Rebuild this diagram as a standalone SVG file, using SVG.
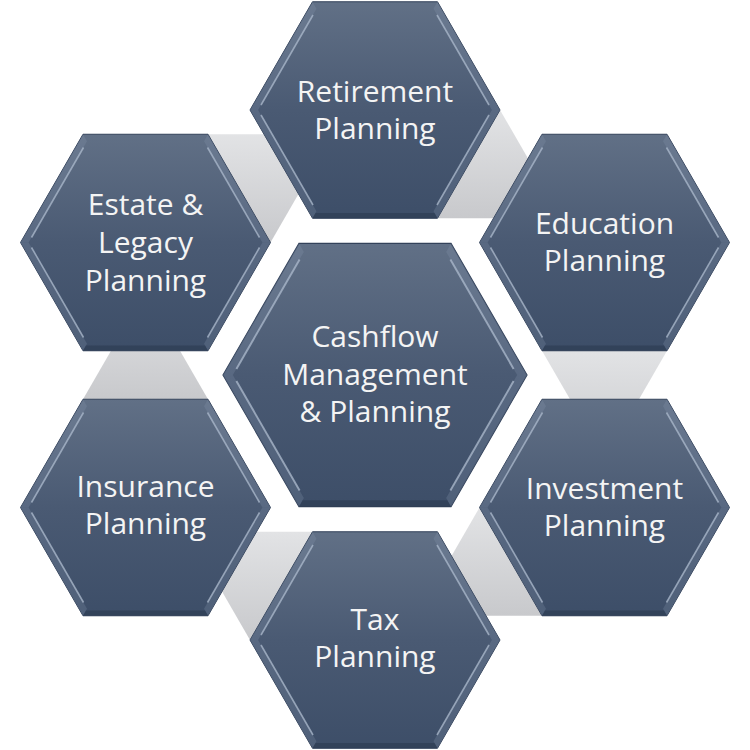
<svg xmlns="http://www.w3.org/2000/svg" width="750" height="750" viewBox="0 0 750 750">
  <defs>
    <linearGradient id="hexGrad" x1="0" y1="0" x2="0" y2="1">
      <stop offset="0" stop-color="#617086"/>
      <stop offset="0.5" stop-color="#4a5a73"/>
      <stop offset="1" stop-color="#3d4e68"/>
    </linearGradient>
    <linearGradient id="triGrad" x1="0" y1="0" x2="0" y2="1">
      <stop offset="0" stop-color="#e2e3e5"/>
      <stop offset="1" stop-color="#c8c9cc"/>
    </linearGradient>
    <g id="hex">
      <polygon points="-125,0 -62.5,-108.25 62.5,-108.25 125,0 62.5,108.25 -62.5,108.25" fill="url(#hexGrad)" stroke="#33425a" stroke-width="1"/>
      <polygon class="side" points="-125,0 -62.5,-108.25 -58.5,-101.25 -116.9,0"/>
      <polygon class="side" points="-125,0 -62.5,108.25 -58.5,101.25 -116.9,0"/>
      <polygon class="side" points="125,0 62.5,-108.25 58.5,-101.25 116.9,0"/>
      <polygon class="side" points="125,0 62.5,108.25 58.5,101.25 116.9,0"/>
      <polygon points="-62.5,108.25 62.5,108.25 59.5,103 -59.5,103" fill="#2c3a50" opacity="0.6"/>
      <line class="hl" x1="-114" y1="-5" x2="-62" y2="-95"/>
      <line class="hl" x1="-114" y1="5" x2="-62" y2="95"/>
      <line class="hl" x1="114" y1="-5" x2="62" y2="-95"/>
      <line class="hl" x1="114" y1="5" x2="62" y2="95"/>
    </g>
  </defs>
  <style>
    .side { fill: #8797ae; opacity: 0.25; }
    .hl { stroke: #a9b7ca; stroke-width: 1.6; opacity: 0.8; }
    .tri { fill: url(#triGrad); }
    .lbl { font-family: "Open Sans", "Noto Sans", "Liberation Sans", sans-serif; font-size: 30px; fill: #f4f4f4; text-anchor: middle; }
  </style>
  <rect width="750" height="750" fill="#ffffff"/>

  <g id="connectors">
    <polygon class="tri" points="500,110 437.5,218.25 562.5,218.25"/>
    <polygon class="tri" points="542,350.75 667,350.75 604.5,459"/>
    <polygon class="tri" points="479.5,507.5 542,615.75 417,615.75"/>
    <polygon class="tri" points="250,640 312.5,531.75 187.5,531.75"/>
    <polygon class="tri" points="83,399.25 208,399.25 145.5,291"/>
    <polygon class="tri" points="208,134.25 270.5,242.5 333,134.25"/>
  </g>

  <g id="node-retirement">
    <use href="#hex" transform="translate(375,110)"/>
    <text class="lbl" x="375" y="102">Retirement</text>
    <text class="lbl" x="375" y="139">Planning</text>
  </g>
  <g id="node-education">
    <use href="#hex" transform="translate(604.5,242.5)"/>
    <text class="lbl" x="604.5" y="234">Education</text>
    <text class="lbl" x="604.5" y="271">Planning</text>
  </g>
  <g id="node-investment">
    <use href="#hex" transform="translate(604.5,507.5)"/>
    <text class="lbl" x="604.5" y="499">Investment</text>
    <text class="lbl" x="604.5" y="536">Planning</text>
  </g>
  <g id="node-tax">
    <use href="#hex" transform="translate(375,640)"/>
    <text class="lbl" x="375" y="630">Tax</text>
    <text class="lbl" x="375" y="667">Planning</text>
  </g>
  <g id="node-insurance">
    <use href="#hex" transform="translate(145.5,507.5)"/>
    <text class="lbl" x="145.5" y="497">Insurance</text>
    <text class="lbl" x="145.5" y="534">Planning</text>
  </g>
  <g id="node-estate">
    <use href="#hex" transform="translate(145.5,242.5)"/>
    <text class="lbl" x="145.5" y="215">Estate &amp;</text>
    <text class="lbl" x="145.5" y="253">Legacy</text>
    <text class="lbl" x="145.5" y="291">Planning</text>
  </g>
  <g id="node-cashflow">
    <use href="#hex" transform="translate(375,375) scale(1.216)"/>
    <text class="lbl" x="375" y="347">Cashflow</text>
    <text class="lbl" x="375" y="385">Management</text>
    <text class="lbl" x="375" y="422">&amp; Planning</text>
  </g>
</svg>
